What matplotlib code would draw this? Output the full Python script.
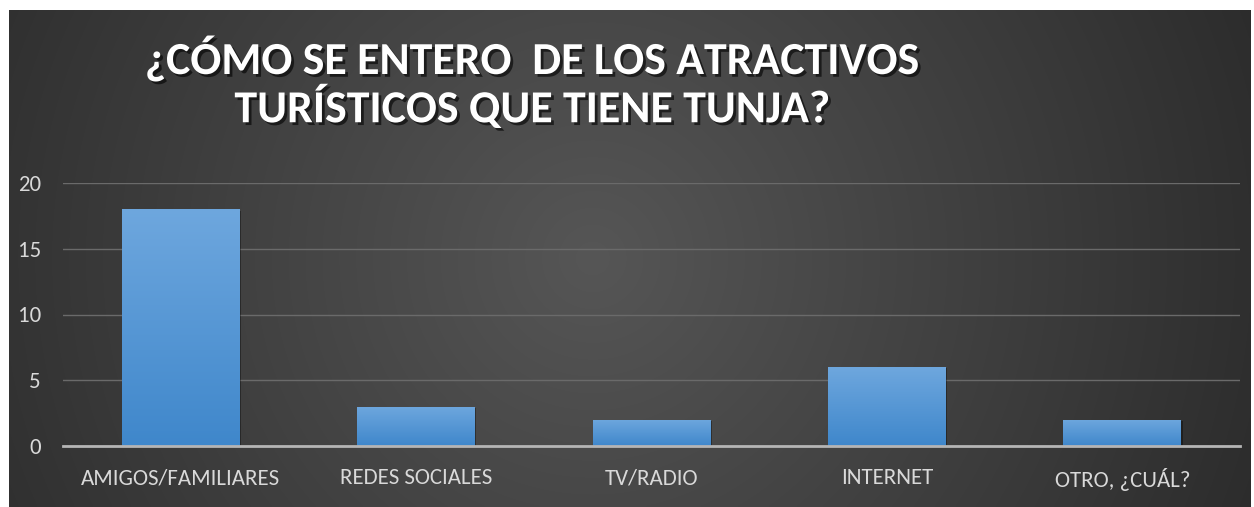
import numpy as np
import matplotlib
matplotlib.use("Agg")
import matplotlib.pyplot as plt
import matplotlib.patheffects as pe
from matplotlib import font_manager as fm
from matplotlib.colors import LinearSegmentedColormap

categories = ["AMIGOS/FAMILIARES", "REDES SOCIALES", "TV/RADIO", "INTERNET", "OTRO, ¿CUÁL?"]
values = [18, 3, 2, 6, 2]
yticks = [0, 5, 10, 15, 20]
title_lines = ["¿CÓMO SE ENTERO  DE LOS ATRACTIVOS", "TURÍSTICOS QUE TIENE TUNJA?"]


def find_font(keys, bold):
    for key in keys:
        for f in fm.fontManager.ttflist:
            n = (f.fname + " " + f.name).lower().replace(" ", "")
            if key in n and "italic" not in n and "oblique" not in n:
                isbold = ("bold" in n) or (f.weight in ("bold", 700))
                if isbold == bold:
                    return fm.FontProperties(fname=f.fname)
    return None


fp_bold = find_font(["carlito", "ptsansnarrow", "narrow"], True)
fp_reg = find_font(["carlito", "ptsansnarrow", "narrow"], False)

W, H = 1254, 507
fig = plt.figure(figsize=(W / 100, H / 100), dpi=100, facecolor="white")

bx0, by0, bx1, by1 = 9, 10, 1251, 507
bg = fig.add_axes([bx0 / W, 1 - by1 / H, (bx1 - bx0) / W, (by1 - by0) / H])
bg.set_axis_off()
yy, xx = np.mgrid[0:1:200j, 0:1:400j]
r = np.sqrt(((xx - 0.47) / 0.6) ** 2 + ((yy - 0.5) / 1.5) ** 2)
r = np.clip(r, 0, 1)
light = np.array([0x56, 0x56, 0x56]) / 255
dark = np.array([0x2a, 0x2a, 0x2a]) / 255
img = light[None, None, :] * (1 - r[..., None]) + dark[None, None, :] * r[..., None]
bg.imshow(img, aspect="auto", extent=[0, 1, 0, 1], interpolation="bilinear")
bg.set_xlim(0, 1)
bg.set_ylim(0, 1)

ax = fig.add_axes([63 / W, 1 - 446 / H, (1240 - 63) / W, (446 - 183) / H])
ax.set_facecolor("none")
x = np.arange(len(categories))
bars = ax.bar(x, values, width=0.5, color="#5b9bd8", edgecolor="none", zorder=3,
              path_effects=[pe.SimplePatchShadow(offset=(1, -1), shadow_rgbFace="black", alpha=0.35),
                            pe.Normal()])
cmap = LinearSegmentedColormap.from_list("barg", ["#3f87cb", "#6ea7de"])
grad = np.linspace(0, 1, 256).reshape(-1, 1)
for b in bars:
    bx, bw, bh = b.get_x(), b.get_width(), b.get_height()
    im = ax.imshow(grad, cmap=cmap, origin="lower", aspect="auto",
                   extent=[bx, bx + bw, 0, bh], zorder=3.5, interpolation="bilinear")
    im.set_clip_path(b)

ax.set_xlim(-0.5, len(categories) - 0.5)
ax.set_ylim(0, 20)
ax.set_yticks(yticks)
ax.yaxis.grid(True, color="#6a6a6a", linewidth=1.0, zorder=0)
ax.set_axisbelow(True)
for s in ["top", "right", "left"]:
    ax.spines[s].set_visible(False)
ax.spines["bottom"].set_color("#b5b5b5")
ax.spines["bottom"].set_linewidth(2.0)
ax.spines["bottom"].set_zorder(4)
ax.set_xticks(x)
ax.set_xticklabels(categories)
ax.tick_params(axis="both", length=0, colors="#d9d9d9")
ax.tick_params(axis="x", pad=16)
ax.tick_params(axis="y", pad=16)
for lab in ax.get_xticklabels():
    if fp_reg is not None:
        lab.set_fontproperties(fp_reg)
    lab.set_fontsize(16.5)
for lab in ax.get_yticklabels():
    if fp_reg is not None:
        lab.set_fontproperties(fp_reg)
    lab.set_fontsize(16.5)

for txt, yc in zip(title_lines, [58, 107]):
    kw = dict(fontproperties=fp_bold) if fp_bold is not None else dict(fontweight="bold")
    t = fig.text(532 / W, 1 - yc / H, txt, ha="center", va="center", color="white",
                 path_effects=[pe.SimplePatchShadow(offset=(2, -2), shadow_rgbFace="black", alpha=0.6),
                               pe.Normal()], **kw)
    t.set_fontsize(33)

fig.savefig("out.png", dpi=100, facecolor="white")
